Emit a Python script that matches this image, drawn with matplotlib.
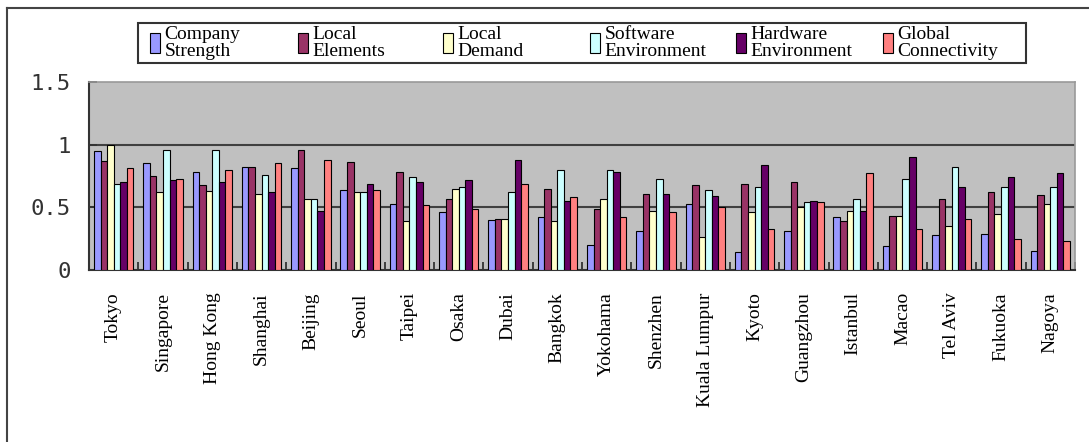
import numpy as np
import matplotlib.pyplot as plt
from matplotlib.lines import Line2D
from matplotlib.patches import Rectangle

# City scores per factor
cities = ['Tokyo', 'Singapore', 'Hong Kong', 'Shanghai', 'Beijing', 'Seoul', 'Taipei',
          'Osaka', 'Dubai', 'Bangkok', 'Yokohama', 'Shenzhen', 'Kuala Lumpur', 'Kyoto',
          'Guangzhou', 'Istanbul', 'Macao', 'Tel Aviv', 'Fukuoka', 'Nagoya']

company_strength = [0.95, 0.85, 0.78, 0.82, 0.81, 0.64, 0.53, 0.46, 0.40, 0.42,
                    0.20, 0.31, 0.53, 0.14, 0.31, 0.42, 0.19, 0.28, 0.29, 0.15]
local_elements = [0.87, 0.75, 0.68, 0.82, 0.96, 0.86, 0.78, 0.57, 0.41, 0.65,
                  0.49, 0.61, 0.68, 0.69, 0.70, 0.39, 0.43, 0.57, 0.62, 0.60]
local_demand = [1.00, 0.62, 0.63, 0.61, 0.57, 0.62, 0.39, 0.65, 0.41, 0.39,
                0.57, 0.47, 0.26, 0.46, 0.50, 0.47, 0.43, 0.35, 0.45, 0.53]
software_env = [0.69, 0.96, 0.96, 0.76, 0.57, 0.62, 0.74, 0.66, 0.62, 0.80,
                0.80, 0.73, 0.64, 0.66, 0.54, 0.57, 0.73, 0.82, 0.66, 0.66]
hardware_env = [0.70, 0.72, 0.70, 0.62, 0.47, 0.69, 0.70, 0.72, 0.88, 0.55,
                0.78, 0.61, 0.59, 0.84, 0.55, 0.47, 0.90, 0.66, 0.74, 0.77]
global_conn = [0.81, 0.73, 0.80, 0.85, 0.88, 0.64, 0.52, 0.49, 0.69, 0.58,
               0.42, 0.46, 0.50, 0.33, 0.54, 0.77, 0.33, 0.41, 0.25, 0.23]

series_names = ['Company\nStrength', 'Local\nElements', 'Local\nDemand',
                'Software\nEnvironment', 'Hardware\nEnvironment', 'Global\nConnectivity']
series = [company_strength, local_elements, local_demand,
          software_env, hardware_env, global_conn]
colors = ['#9999FF', '#993366', '#FFFFCC', '#CCFFFF', '#660066', '#FF8080']

W, H = 1089, 442
fig = plt.figure(figsize=(W / 100, H / 100), dpi=100)
ax = fig.add_axes([89/W, 1 - 270/H, (1075-89)/W, (270-82)/H])

x = np.arange(len(cities))
width = 1 / 7.5
bars = []
for k, (vals, name, col) in enumerate(zip(series, series_names, colors)):
    b = ax.bar(x + (k - 2.5) * width, vals, width, color=col, edgecolor='black',
               linewidth=0.8, label=name, zorder=3)
    bars.append(b)

ax.set_facecolor('#C0C0C0')
ax.set_xlim(-0.5, len(cities) - 0.5)
ax.set_ylim(0, 1.5)

# gridlines at 0.5 and 1
for yv in [0.5, 1.0]:
    ax.axhline(yv, color='#404040', linewidth=1.5, zorder=1)

for side in ['top', 'right']:
    ax.spines[side].set_color('#999999')
    ax.spines[side].set_linewidth(1.2)
for side in ['left', 'bottom']:
    ax.spines[side].set_color('#333333')
    ax.spines[side].set_linewidth(1.5)

ax.set_yticks([0, 0.5, 1, 1.5])
ax.set_yticklabels(['0', '0.5', '1', '1.5'], family='DejaVu Sans Mono', fontsize=16,
                   color='#333333')
ax.tick_params(axis='y', direction='in', length=6, width=1.3, color='#333333', pad=13)

ax.set_xticks(x)
ax.set_xticklabels(cities, rotation=90, va='top', ha='center',
                   family='Liberation Serif', fontsize=14)
ax.tick_params(axis='x', which='major', length=0, pad=16)
ax.set_xticks(np.arange(len(cities) + 1) - 0.5, minor=True)
ax.tick_params(axis='x', which='minor', direction='in', length=6, width=1.3,
               color='#333333')

# legend: one entry per slot, inside a shared box
fig.add_artist(Rectangle((138/W, 1 - 63/H), (1026-138)/W, 40/H, transform=fig.transFigure,
                         facecolor='white', edgecolor='#333333', linewidth=1.5))
legend_x = [150, 298, 443, 590, 736, 883]
for b, name, lx in zip(bars, series_names, legend_x):
    leg = fig.legend([b], [name], loc='center left', bbox_to_anchor=(lx/W, 1 - 43/H),
                     prop={'family': 'Liberation Serif', 'size': 14}, frameon=False,
                     handlelength=0.5, handleheight=1.25, handletextpad=0.25,
                     borderpad=0, borderaxespad=0)
    for t in leg.get_texts():
        t.set_linespacing(0.95)

# outer frame lines
fig.add_artist(Line2D([7/W, 1], [1 - 8/H, 1 - 8/H], transform=fig.transFigure,
                      color='#444444', linewidth=1.5))
fig.add_artist(Line2D([7/W, 7/W], [0, 1 - 8/H], transform=fig.transFigure,
                      color='#444444', linewidth=1.5))

fig.savefig('out.png', dpi=100)
